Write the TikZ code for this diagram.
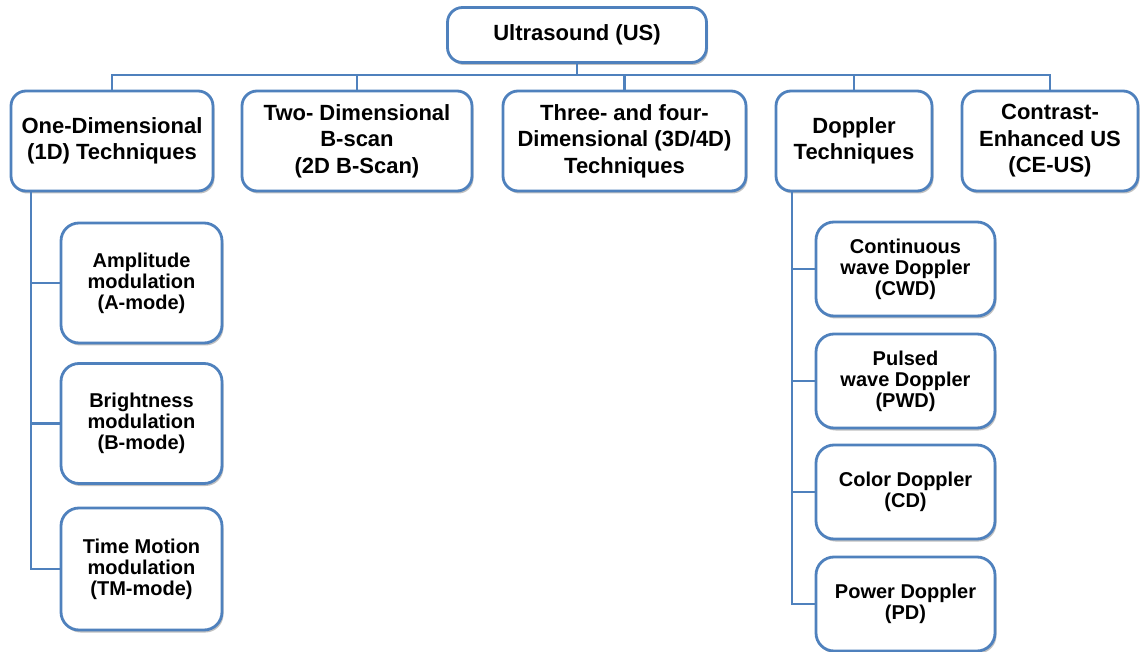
\documentclass[tikz,border=0pt]{standalone}
\usepackage{fontspec}
\setmainfont{Liberation Sans}
\usetikzlibrary{shadows}
\definecolor{usblue}{RGB}{79,129,189}

\begin{document}
\begin{tikzpicture}[x=1pt, y=-1pt,
  box/.style={draw=usblue, line width=2.8pt, fill=white, rounded corners=15pt,
    align=center, inner sep=0pt, font=\bfseries\fontsize{22}{26.5}\selectfont,
    drop shadow={shadow xshift=1.5pt, shadow yshift=-2.5pt, opacity=0.35, fill=black!70}},
  subbox/.style={box, rounded corners=18pt, font=\bfseries\fontsize{20}{21}\selectfont},
  link/.style={draw=usblue, line width=2.2pt}]

  \useasboundingbox (0,0) rectangle (1141,652);

  % Root
  \node[box, minimum width=259pt, minimum height=55pt] (root) at (577,35) {Ultrasound (US)};

  % First level
  \node[box, minimum width=202pt, minimum height=100pt] (oneD)    at (112,141)   {One-Dimensional\\(1D) Techniques};
  \node[box, minimum width=230pt, minimum height=100pt] (twoD)    at (357,141)   {Two- Dimensional\\B-scan\\(2D B-Scan)};
  \node[box, minimum width=243pt, minimum height=100pt] (threeD)  at (624.5,141) {Three- and four-\\Dimensional (3D/4D)\\Techniques};
  \node[box, minimum width=156pt, minimum height=100pt] (doppler) at (854,141)   {Doppler\\Techniques};
  \node[box, minimum width=176pt, minimum height=100pt] (ceus)    at (1050,141)  {Contrast-\\Enhanced US\\(CE-US)};

  % 1D modes
  \node[subbox, minimum width=161pt, minimum height=120pt] (amode)  at (141.5,283)   {Amplitude\\modulation\\(A-mode)};
  \node[subbox, minimum width=161pt, minimum height=120pt] (bmode)  at (141.5,423.5) {Brightness\\modulation\\(B-mode)};
  \node[subbox, minimum width=161pt, minimum height=122pt] (tmmode) at (141.5,569)   {Time Motion\\modulation\\(TM-mode)};

  % Doppler modes
  \node[subbox, minimum width=179pt, minimum height=94pt] (cwd) at (905.5,269) {Continuous\\wave Doppler\\(CWD)};
  \node[subbox, minimum width=179pt, minimum height=94pt] (pwd) at (905.5,381) {Pulsed\\wave Doppler\\(PWD)};
  \node[subbox, minimum width=179pt, minimum height=94pt] (cd)  at (905.5,492) {Color Doppler\\(CD)};
  \node[subbox, minimum width=179pt, minimum height=94pt] (pd)  at (905.5,604) {Power Doppler\\(PD)};

  % Connectors
  \coordinate (bus) at (577,75);
  \draw[link] (root.south) -- (bus);
  \foreach \n in {oneD,twoD,threeD,doppler,ceus}
    \draw[link] (bus) -| (\n.north);

  \coordinate (oneDtrunk) at ([xshift=-81pt]oneD.south);
  \foreach \n in {amode,bmode,tmmode}
    \draw[link] (oneDtrunk) |- (\n.west);

  \coordinate (dopplertrunk) at ([xshift=-62pt]doppler.south);
  \foreach \n in {cwd,pwd,cd,pd}
    \draw[link] (dopplertrunk) |- (\n.west);

\end{tikzpicture}
\end{document}
